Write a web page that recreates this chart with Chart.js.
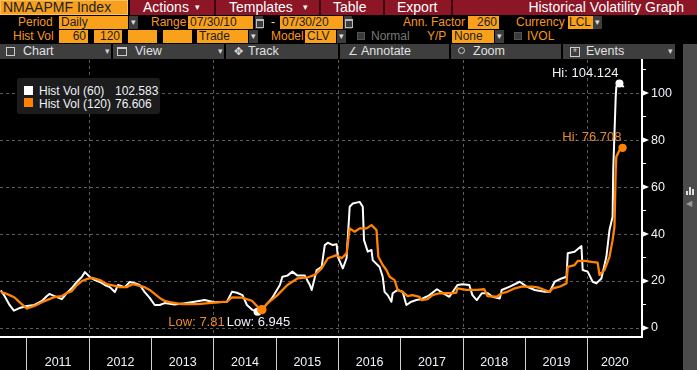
<!DOCTYPE html>
<html><head><meta charset="utf-8">
<script src="https://cdn.jsdelivr.net/npm/chart.js@4.4.1/dist/chart.umd.min.js"></script>
<style>
*{box-sizing:border-box}
html,body{margin:0;padding:0;background:#000;width:697px;height:370px;overflow:hidden;font-family:"Liberation Sans",Arial,sans-serif;}
.a{position:absolute;white-space:nowrap}
.t1{font-size:14px;line-height:15px;color:#fff;top:0;height:15px}
.lb{font-size:12px;line-height:13px;color:#f7961f}
.f{background:#f9a11b;color:#1e1e1e;font-size:12px;line-height:13px;height:13px;padding:0 2px}
.dd{background:#3d3d3d;color:#ddd;font-size:9px;line-height:13px;height:13px;width:9px;text-align:center}
.cal{background:#3d3d3d;height:13px;width:8px}
.cal:after{content:"";position:absolute;left:1px;top:3px;width:6px;height:6px;border:1px solid #bbb;border-top-width:2px}
.tb{background:#3e3e3e;top:44px;height:15px}
.tt{top:44px;color:#e2e2e2;font-size:12.5px;line-height:15px}
.tv{top:44px;color:#cfcfcf;font-size:9px;line-height:15px}
.lt{font-size:12px;line-height:14px;color:#eef3f9}
.cb{background:#3a3a3a;border:1px solid #555;width:8px;height:8px}
</style></head>
<body>
<!-- row 1 -->
<div class="a" style="left:0;top:0;width:128px;height:15px;background:#f7a01f;border:1px solid #ffbf5e"></div>
<div class="a t1" style="left:3px;color:#222">NMAAPMF Index</div>
<div class="a" style="left:130px;top:0;width:567px;height:15px;background:#8c1526"></div>
<div class="a" style="left:214px;top:0;width:2px;height:15px;background:#3e0810"></div>
<div class="a" style="left:319px;top:0;width:2px;height:15px;background:#3e0810"></div>
<div class="a" style="left:383px;top:0;width:2px;height:15px;background:#3e0810"></div>
<div class="a" style="left:451px;top:0;width:2px;height:15px;background:#3e0810"></div>
<div class="a t1" style="left:143px">Actions</div><div class="a t1" style="left:195px;font-size:9px">▾</div>
<div class="a t1" style="left:229px">Templates</div><div class="a t1" style="left:303px;font-size:9px">▾</div>
<div class="a t1" style="left:333px">Table</div>
<div class="a t1" style="left:397px">Export</div>
<div class="a t1" style="right:13px">Historical Volatility Graph</div>
<!-- row 2 -->
<div class="a lb" style="left:18px;top:16px">Period</div>
<div class="a f" style="left:59px;top:16px;width:69px">Daily</div><div class="a dd" style="left:129px;top:16px">▾</div>
<div class="a lb" style="left:151px;top:16px">Range</div>
<div class="a f" style="left:188px;top:16px;width:65px">07/30/10</div><div class="a cal" style="left:255px;top:16px"></div>
<div class="a lb" style="left:271px;top:16px;color:#ddd">-</div>
<div class="a f" style="left:280px;top:16px;width:63px">07/30/20</div><div class="a cal" style="left:344px;top:16px"></div>
<div class="a lb" style="left:403px;top:16px">Ann. Factor</div>
<div class="a f" style="left:468px;top:16px;width:31px;text-align:right">260</div>
<div class="a lb" style="left:516px;top:16px">Currency</div>
<div class="a f" style="left:568px;top:16px;width:25px;padding:0 1px">LCL</div><div class="a dd" style="left:593px;top:16px">▾</div>
<!-- row 3 -->
<div class="a lb" style="left:13px;top:30px">Hist Vol</div>
<div class="a f" style="left:59px;top:30px;width:29px;text-align:right">60</div>
<div class="a f" style="left:94px;top:30px;width:28px;text-align:right">120</div>
<div class="a f" style="left:128px;top:30px;width:29px"></div>
<div class="a f" style="left:163px;top:30px;width:29px"></div>
<div class="a f" style="left:197px;top:30px;width:51px">Trade</div><div class="a dd" style="left:249px;top:30px">▾</div>
<div class="a lb" style="left:271px;top:30px">Model</div>
<div class="a f" style="left:305px;top:30px;width:31px">CLV</div><div class="a dd" style="left:337px;top:30px">▾</div>
<div class="a cb" style="left:357px;top:32px"></div>
<div class="a lb" style="left:371px;top:30px;color:#777">Normal</div>
<div class="a lb" style="left:427px;top:30px">Y/P</div>
<div class="a f" style="left:452px;top:30px;width:42px">None</div><div class="a dd" style="left:495px;top:30px">▾</div>
<div class="a cb" style="left:514px;top:32px"></div>
<div class="a lb" style="left:527px;top:30px">IVOL</div>
<!-- toolbar -->
<div class="a tb" style="left:0;width:111px"></div>
<div class="a tb" style="left:113px;width:111px"></div>
<div class="a tb" style="left:226px;width:112px"></div>
<div class="a tb" style="left:340px;width:109px"></div>
<div class="a tb" style="left:451px;width:110px"></div>
<div class="a tb" style="left:563px;width:112px"></div>
<div class="a" style="left:6px;top:47px;width:9px;height:9px;border:1px solid #ccc"></div>
<div class="a tt" style="left:23px">Chart</div><div class="a tv" style="left:105px">▾</div>
<div class="a" style="left:117px;top:47px;width:10px;height:9px;border:1px solid #ccc;border-top-width:2px"></div>
<div class="a tt" style="left:135px">View</div><div class="a tv" style="left:218px">▾</div>
<div class="a tt" style="left:234px;font-size:11px">✥</div>
<div class="a tt" style="left:248px">Track</div>
<div class="a tt" style="left:348px;font-size:11px">∠</div>
<div class="a tt" style="left:361px">Annotate</div>
<div class="a" style="left:458px;top:47px;width:7px;height:7px;border:1px solid #ccc;border-radius:50%"></div>
<div class="a tt" style="left:473px">Zoom</div>
<div class="a" style="left:570px;top:47px;width:10px;height:10px;border:1px solid #ccc;color:#ccc;font-size:10px;line-height:9px;text-align:center">*</div>
<div class="a tt" style="left:586px">Events</div><div class="a tv" style="left:668px">▾</div>
<!-- right strip -->
<div class="a" style="left:683px;top:44px;width:14px;height:326px;background:#4b4b4b"></div>
<div class="a" style="left:686px;top:191px;width:2px;height:4px;background:#ddd"></div>
<div class="a" style="left:689px;top:187px;width:2px;height:8px;background:#ddd"></div>
<div class="a" style="left:692px;top:189px;width:2px;height:6px;background:#ddd"></div>
<div class="a" style="left:686px;top:199px;color:#999;font-size:8px;line-height:10px">◀</div>

<div class="a" style="left:0;top:59px;width:683px;height:311px"><canvas id="c"></canvas></div>

<div class="a" style="left:17px;top:78px;width:143px;height:36px;background:#1c1c1c;border-radius:3px;z-index:5">
  <div class="a" style="left:7px;top:8px;width:9px;height:9px;background:#fff"></div>
  <div class="a lt" style="left:22px;top:6px">Hist Vol (60)</div>
  <div class="a lt" id="v60" style="left:98px;top:6px"></div>
  <div class="a" style="left:7px;top:20px;width:9px;height:9px;background:#ff8200"></div>
  <div class="a lt" style="left:22px;top:18.5px">Hist Vol (120)</div>
  <div class="a lt" id="v120" style="left:98px;top:18.5px"></div>
</div>

<script>
// 60-day historical volatility (white)
const t60 = [2010.58,2010.64,2010.72,2010.79,2010.88,
  2011.00,2011.12,2011.24,2011.32,2011.36,2011.44,2011.56,2011.64,2011.72,2011.80,2011.88,2011.93,
  2012.01,2012.09,2012.17,2012.25,2012.33,2012.41,2012.46,2012.57,2012.65,2012.73,2012.81,2012.89,2012.97,
  2013.05,2013.13,2013.21,2013.37,2013.53,2013.69,2013.85,
  2014.01,2014.21,2014.29,2014.37,2014.46,2014.53,2014.62,2014.70,2014.81,2014.93,
  2015.06,2015.10,2015.18,2015.26,2015.34,2015.46,2015.54,2015.57,2015.65,2015.73,2015.78,2015.83,2015.91,2015.97,2015.99,
  2016.07,2016.13,2016.18,2016.23,2016.34,2016.39,2016.41,2016.47,2016.53,2016.55,2016.66,2016.71,2016.74,2016.79,2016.85,2016.87,2016.95,
  2017.03,2017.09,2017.17,2017.25,2017.33,2017.41,2017.46,2017.58,2017.67,2017.78,2017.91,2017.99,
  2018.10,2018.15,2018.22,2018.30,2018.40,2018.47,2018.59,2018.62,2018.75,2018.91,
  2019.02,2019.15,2019.31,2019.39,2019.47,2019.58,2019.66,2019.68,2019.79,2019.90,2019.92,
  2020.00,2020.08,2020.14,2020.22,2020.30,2020.35,2020.40,2020.41,2020.45,2020.46,2020.51,2020.58];
const vol60 = [16.0,13.6,9.8,7.4,8.5,
  9.4,9.8,11.5,13.6,14.5,13.6,12.3,14.9,17.0,19.6,21.7,23.8,
  21.7,20.4,19.6,18.3,17.4,15.3,18.3,17.4,19.6,19.1,18.3,15.3,12.8,
  9.8,9.8,10.6,10.0,10.5,11.2,11.9,
  11.0,11.2,15.4,15.0,14.0,9.8,7.7,6.945,9.0,12.6,
  18.3,21.8,22.3,24.0,22.3,22.3,18.3,16.2,24.7,26.0,35.3,36.3,35.3,35.7,30.3,
  25.4,29.7,51.6,53.0,53.7,51.6,37.4,32.5,33.2,28.9,26.0,21.8,15.4,14.0,11.2,14.8,16.2,
  15.4,9.8,11.2,11.9,12.3,13.3,14.0,16.5,15.0,13.3,18.3,18.6,
  18.3,14.0,11.9,14.8,14.8,13.3,12.6,16.2,17.6,19.7,
  17.6,16.2,15.4,15.4,19.7,21.1,21.8,31.8,32.5,34.9,24.7,
  24.0,19.7,19.0,21.1,30.3,41.7,47.4,67.2,98.4,102.7,104.124,102.583];
// 120-day historical volatility (orange)
const t120 = [2010.58,2010.64,2010.72,2010.80,2010.88,
  2011.00,2011.12,2011.24,2011.36,2011.44,2011.56,2011.64,2011.72,2011.80,2011.88,2011.97,
  2012.05,2012.17,2012.28,2012.41,2012.49,2012.60,2012.70,2012.81,2012.89,2012.97,
  2013.05,2013.13,2013.21,2013.29,2013.48,2013.74,
  2014.01,2014.21,2014.29,2014.45,2014.61,2014.70,2014.77,2014.86,
  2015.02,2015.18,2015.34,2015.51,2015.62,2015.73,2015.83,2015.97,
  2016.05,2016.13,2016.18,2016.26,2016.34,2016.45,2016.53,2016.61,2016.64,2016.71,2016.77,2016.82,2016.90,2016.95,
  2017.03,2017.11,2017.19,2017.30,2017.33,2017.43,2017.51,2017.62,2017.78,2017.89,2017.91,
  2018.05,2018.22,2018.34,2018.39,2018.54,2018.62,2018.71,2018.83,2018.94,
  2019.10,2019.20,2019.31,2019.39,2019.44,2019.55,2019.66,2019.68,2019.79,2019.84,2019.95,
  2020.06,2020.16,2020.19,2020.27,2020.35,2020.40,2020.43,2020.45,2020.46,2020.51,2020.56,2020.58];
const vol120 = [15.3,14.9,14.0,13.0,11.0,
  8.3,9.4,11.0,12.3,13.2,13.6,14.9,15.7,18.3,20.0,20.9,
  21.3,20.4,18.7,17.9,17.4,17.4,18.7,17.9,17.4,16.2,
  14.5,12.8,11.5,11.0,10.2,10.2,
  10.8,11.2,13.0,12.9,11.6,9.1,7.81,10.5,
  14.0,18.3,21.1,21.6,22.6,25.4,29.7,31.0,
  29.7,31.8,42.4,41.0,42.4,42.4,43.8,41.7,30.3,26.8,24.7,21.8,20.4,16.2,
  15.4,13.6,14.0,13.3,11.9,12.3,14.0,14.8,14.8,15.0,16.9,
  16.2,16.2,16.5,13.6,13.3,14.8,15.4,16.9,17.6,
  17.6,17.3,16.2,15.4,16.9,17.6,19.0,26.0,26.8,28.6,28.6,
  28.2,27.8,22.6,24.7,30.3,37.4,43.1,67.2,72.9,75.7,76.708,76.606];
const years = [2011,2012,2013,2014,2015,2016,2017,2018,2019,2020];
const yTickValues = [0,10,20,30,40,50,60,70,80,90,100,110];
const yLabelValues = [0,20,40,60,80,100];

const X_MIN = 2010.567, X_MAX = 2020.872, Y_MIN = -3.83, Y_MAX = 114.1;
const WHITE = '#ffffff', ORANGE = '#ff8200', ORANGE_TXT = '#e9882a', TXT = '#eef3f9', GRID = '#5c5c5c';
const FONT = '"Liberation Sans", Arial, sans-serif';

document.getElementById('v60').textContent = vol60[vol60.length-1].toFixed(3);
document.getElementById('v120').textContent = vol120[vol120.length-1].toFixed(3);

const mids = years.map(y => (y + Math.min(y + 1, X_MAX)) / 2);
const xTickValues = years.concat(mids).sort((a,b)=>a-b);
const isBoundary = v => Number.isInteger(v);

function idxMax(a){let k=0;for(let i=1;i<a.length;i++) if(a[i]>a[k]) k=i;return k;}
function idxMin(a){let k=0;for(let i=1;i<a.length;i++) if(a[i]<a[k]) k=i;return k;}

const marks = {
  id: 'marks',
  afterDatasetsDraw(chart){
    const {ctx, scales:{x, y}} = chart;
    const P = (t, v) => [x.getPixelForValue(t), y.getPixelForValue(v)];
    const dot = (px, py, r, c) => {ctx.beginPath();ctx.arc(px, py, r, 0, Math.PI*2);ctx.fillStyle=c;ctx.fill();};
    ctx.save();
    ctx.font = '13px ' + FONT;
    ctx.textBaseline = 'middle';
    const l60 = idxMin(vol60), l120 = idxMin(vol120);
    const [ax, ay] = P(t60[l60], vol60[l60]);
    const [bx, by] = P(t120[l120], vol120[l120]);
    dot(ax, ay, 4, WHITE);
    dot(bx, by, 4.7, ORANGE);
    const wl = 'Low: ' + vol60[l60];
    const ww = ctx.measureText(wl).width;
    const wlx = ax + 1 - ww/2, ly = ay + 11;
    ctx.fillStyle = TXT; ctx.textAlign = 'left'; ctx.fillText(wl, wlx, ly);
    ctx.fillStyle = ORANGE_TXT; ctx.textAlign = 'right'; ctx.fillText('Low: ' + vol120[l120], wlx - 2, ly);
    const h60 = idxMax(vol60), h120 = idxMax(vol120);
    const [cx, cy] = P(t60[h60], vol60[h60]);
    const [dx, dy] = P(t120[h120], vol120[h120]);
    dot(cx, cy, 4, WHITE);
    dot(dx, dy, 4.2, ORANGE);
    ctx.textAlign = 'right';
    ctx.fillStyle = TXT; ctx.fillText('Hi: ' + vol60[h60], cx - 1, cy - 10);
    ctx.fillStyle = ORANGE_TXT; ctx.fillText('Hi: ' + vol120[h120], dx - 1, dy - 10);
    ctx.restore();
  },
  afterDraw(chart){
    const {ctx, scales:{y}} = chart;
    ctx.save();
    ctx.fillStyle = WHITE;
    for (const v of yLabelValues){
      const py = y.getPixelForValue(v), px = y.left;
      ctx.beginPath(); ctx.moveTo(px, py-3); ctx.lineTo(px+7, py); ctx.lineTo(px, py+3); ctx.closePath(); ctx.fill();
    }
    ctx.restore();
  }
};

new Chart(document.getElementById('c'), {
  type: 'line',
  data: {
    datasets: [
      {label:'Hist Vol (120)', data: t120.map((t,i)=>({x:t, y:vol120[i]})), borderColor: ORANGE, borderWidth: 2.3, pointRadius: 0, borderJoinStyle:'round', order: 0},
      {label:'Hist Vol (60)', data: t60.map((t,i)=>({x:t, y:vol60[i]})), borderColor: WHITE, borderWidth: 2, pointRadius: 0, borderJoinStyle:'round', order: 1}
    ]
  },
  options: {
    responsive: true, maintainAspectRatio: false, animation: false, devicePixelRatio: 1,
    layout: {padding: {top: 1, left: 0, right: 0, bottom: 0}},
    plugins: {legend: {display: false}, tooltip: {enabled: false}},
    scales: {
      x: {
        type: 'linear', position: 'bottom', min: X_MIN, max: X_MAX,
        afterBuildTicks: s => { s.ticks = xTickValues.map(v => ({value: v})); },
        afterFit: s => { s.height = 33; s.paddingLeft = 0; s.paddingRight = 0; },
        grid: {
          color: c => (c.tick && isBoundary(c.tick.value) && c.tick.value % 2 === 0) ? GRID : 'transparent',
          tickColor: c => (c.tick && isBoundary(c.tick.value)) ? '#d0d0d0' : 'transparent',
          tickLength: 33, lineWidth: 1, tickWidth: 1
        },
        border: {display: true, color: WHITE, width: 2, dash: [3,3]},
        ticks: {
          autoSkip: false, maxRotation: 0, minRotation: 0, padding: -15,
          color: TXT, font: {family: FONT, size: 12.5},
          callback: v => isBoundary(v) ? '' : String(Math.floor(v))
        }
      },
      y: {
        type: 'linear', position: 'right', min: Y_MIN, max: Y_MAX,
        afterBuildTicks: s => { s.ticks = yTickValues.map(v => ({value: v})); },
        afterFit: s => { s.width = 41; s.paddingTop = 0; s.paddingBottom = 0; },
        grid: {
          color: c => (c.tick && yLabelValues.includes(c.tick.value)) ? GRID : 'transparent',
          tickColor: WHITE, tickLength: 4, lineWidth: 1, tickWidth: 1
        },
        border: {display: true, color: WHITE, width: 2, dash: [3,3]},
        ticks: {
          padding: 5, color: TXT, font: {family: FONT, size: 12.5},
          callback: v => yLabelValues.includes(v) ? String(v) : ''
        }
      }
    }
  },
  plugins: [marks]
});
</script>
</body></html>
